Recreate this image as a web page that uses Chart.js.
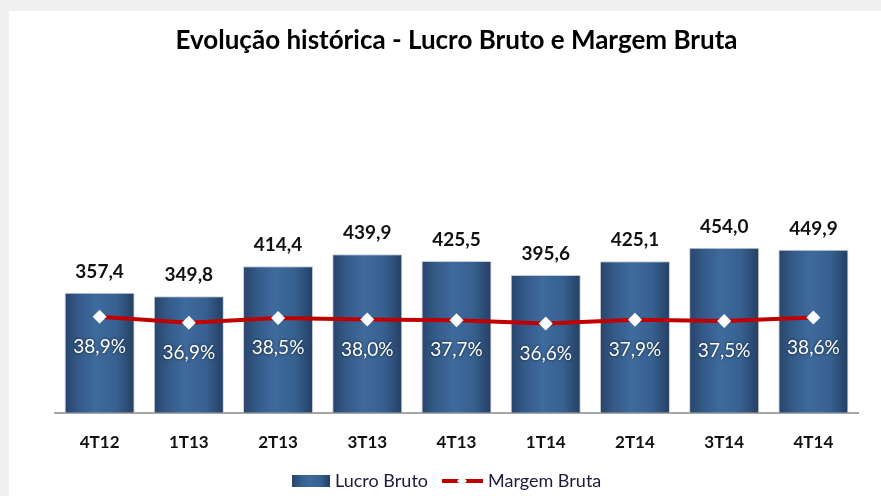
<!DOCTYPE html>
<html>
<head>
<meta charset="utf-8">
<script src="https://cdn.jsdelivr.net/npm/chart.js@4"></script>
<style>
  html, body { margin: 0; padding: 0; background: #f0f0f0; }
  #wrap { width: 881px; height: 496px; position: relative; }
</style>
</head>
<body>
<div id="wrap"><canvas id="c" width="881" height="496"></canvas></div>
<script>
const categories = ["4T12", "1T13", "2T13", "3T13", "4T13", "1T14", "2T14", "3T14", "4T14"];
const lucroBruto = [357.4, 349.8, 414.4, 439.9, 425.5, 395.6, 425.1, 454.0, 449.9];
const margemBruta = [38.9, 36.9, 38.5, 38.0, 37.7, 36.6, 37.9, 37.5, 38.6];
const seriesNames = ["Lucro Bruto", "Margem Bruta"];
const titleText = "Evolução histórica - Lucro Bruto e Margem Bruta";

const fmt = (v, d) => v.toFixed(d).replace(".", ",");

function barGradient(ctx, x0, x1) {
  const g = ctx.createLinearGradient(x0, 0, x1, 0);
  g.addColorStop(0, "#28446a");
  g.addColorStop(0.2, "#345a88");
  g.addColorStop(0.45, "#3e6a9d");
  g.addColorStop(0.75, "#36608f");
  g.addColorStop(1, "#253e62");
  return g;
}

const bgPlugin = {
  id: "bg",
  beforeDraw(chart) {
    const c = chart.ctx;
    c.save();
    c.fillStyle = "#f0f0f0";
    c.fillRect(0, 0, chart.width, chart.height);
    c.fillStyle = "#ffffff";
    c.fillRect(9, 11, chart.width - 9, chart.height - 11);
    c.restore();
  },
  beforeDatasetDraw(chart, args) {
    if (args.index !== 0) return;
    const c = chart.ctx;
    const meta = chart.getDatasetMeta(0);
    c.save();
    const a = chart.chartArea;
    c.beginPath();
    c.rect(a.left, a.top, a.right - a.left, a.bottom - a.top);
    c.clip();
    meta.data.forEach(el => {
      const x0 = el.x - el.width / 2, x1 = el.x + el.width / 2;
      const saved = el.options;
      el.options = Object.assign({}, saved, { backgroundColor: barGradient(c, x0, x1) });
      el.draw(c);
      el.options = saved;
    });
    c.restore();
    return false;
  }
};

const labelPlugin = {
  id: "labels",
  afterDatasetsDraw(chart) {
    const c = chart.ctx;
    const barMeta = chart.getDatasetMeta(0);
    const lineMeta = chart.getDatasetMeta(1);
    c.save();
    c.textAlign = "center";
    c.textBaseline = "middle";
    // values above bars
    c.font = "bold 19px Lato";
    c.fillStyle = "#111111";
    barMeta.data.forEach((el, i) => {
      c.fillText(fmt(lucroBruto[i], 1), el.x, el.y - 21);
    });
    // percentages below points
    c.font = "19px Lato";
    lineMeta.data.forEach((el, i) => {
      c.shadowColor = "rgba(0,0,0,0.7)";
      c.shadowBlur = 3;
      c.fillStyle = "#ffffff";
      c.fillText(fmt(margemBruta[i], 1) + "%", el.x, el.y + 30);
    });
    c.shadowBlur = 0;
    // legend
    const ly = 481;
    const bx = 292;
    c.fillStyle = barGradient(c, bx, bx + 38);
    c.fillRect(bx, ly - 6, 38, 12);
    c.font = "18px Lato";
    c.textAlign = "left";
    c.fillStyle = "#1c1c3a";
    c.fillText(seriesNames[0], 335, ly);
    c.strokeStyle = "#c00000";
    c.lineWidth = 4;
    c.beginPath();
    c.moveTo(442, ly);
    c.lineTo(483, ly);
    c.stroke();
    c.fillStyle = "#ffffff";
    c.beginPath();
    c.moveTo(462, ly - 5); c.lineTo(467, ly); c.lineTo(462, ly + 5); c.lineTo(457, ly);
    c.closePath();
    c.fill();
    c.fillStyle = "#1c1c3a";
    c.fillText(seriesNames[1], 488, ly);
    c.restore();
  }
};

new Chart(document.getElementById("c"), {
  data: {
    labels: categories,
    datasets: [
      {
        type: "bar",
        label: seriesNames[0],
        data: lucroBruto,
        yAxisID: "y",
        backgroundColor: "#36608f",
        borderColor: "rgba(190,198,210,0.9)",
        borderWidth: 1,
        categoryPercentage: 1,
        barPercentage: 0.785,
        order: 2
      },
      {
        type: "line",
        label: seriesNames[1],
        data: margemBruta,
        yAxisID: "y2",
        borderColor: "#c00000",
        borderWidth: 4,
        pointStyle: "rectRot",
        pointRadius: 7,
        pointBackgroundColor: "#ffffff",
        pointBorderColor: "#ffffff",
        pointBorderWidth: 0,
        tension: 0,
        order: 1
      }
    ]
  },
  options: {
    responsive: false,
    animation: false,
    devicePixelRatio: 1,
    layout: { padding: { left: 55, right: 23, top: 0, bottom: 23 } },
    plugins: {
      legend: { display: false },
      tooltip: { enabled: false },
      title: {
        display: true,
        text: titleText,
        color: "#000000",
        font: { family: "Lato", size: 26, weight: "bold" },
        padding: { top: 25, bottom: 123.6 }
      }
    },
    scales: {
      x: {
        grid: { display: false, drawTicks: false },
        border: { display: true, color: "#a6a6a6", width: 2 },
        ticks: { color: "#111111", font: { family: "Lato", size: 17, weight: "bold" }, padding: 20 }
      },
      y: { display: false, min: 100, max: 600 },
      y2: { display: false, min: 6.9, max: 84.6 }
    }
  },
  plugins: [bgPlugin, labelPlugin]
});
</script>
</body>
</html>
